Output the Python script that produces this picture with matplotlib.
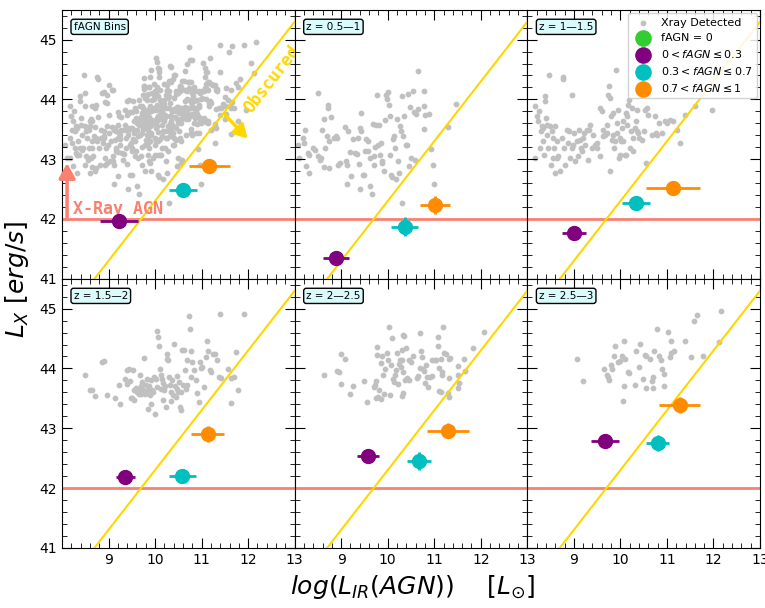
import numpy as np
import matplotlib
matplotlib.use('Agg')
import matplotlib.pyplot as plt
from matplotlib.ticker import MultipleLocator

# Gray X-ray detected sources per redshift bin (log L_IR(AGN), log L_X)
z1_x = [8.065, 8.100, 8.172, 8.208, 8.222, 8.244, 8.294, 8.315, 8.315, 8.387, 8.437, 8.495, 8.509, 8.552,
        8.566, 8.581, 8.624, 8.638, 8.652, 8.695, 8.710, 8.724, 8.738, 8.746, 8.781, 8.839, 8.896, 8.910,
        8.925, 8.968, 9.082, 9.104, 9.118, 9.125, 9.154, 9.197, 9.211, 9.254, 9.297, 9.341, 9.369, 9.391,
        9.412, 9.427, 9.427, 9.412, 9.462, 9.498, 9.513, 9.534, 9.570, 9.584, 9.613, 9.627, 9.656, 9.677,
        9.699, 9.713, 9.728, 9.749, 9.771, 9.785, 9.821, 9.842, 9.857, 9.871, 9.885, 9.914, 9.943, 9.971,
        9.986, 10.014, 10.036, 10.057, 10.057, 10.072, 10.086, 10.108, 10.143, 10.158, 10.179, 10.201,
        10.229, 10.251, 10.272, 10.287, 10.301, 10.323, 10.344, 10.394, 10.416, 10.444, 10.466, 10.487,
        10.502, 10.538, 10.559, 10.588, 10.609, 10.645, 10.659, 10.774, 10.789, 10.789, 10.803, 10.896,
        10.932, 10.968, 10.989, 11.290, 11.462, 10.301]
z1_y = [43.244, 43.022, 43.356, 43.272, 43.494, 42.883, 43.106, 42.772, 43.078, 43.189, 43.161, 44.106,
        43.050, 42.994, 43.022, 43.494, 43.678, 42.867, 43.189, 43.383, 43.856, 43.900, 42.856, 43.300,
        43.700, 43.356, 43.383, 43.356, 42.900, 42.939, 43.533, 42.967, 42.900, 42.589, 43.467, 43.122,
        42.717, 43.344, 43.106, 43.094, 43.356, 42.922, 43.522, 43.778, 43.467, 42.494, 42.744, 42.733,
        43.133, 43.344, 43.300, 43.133, 42.550, 43.022, 42.411, 43.589, 43.050, 42.900, 43.200, 43.578,
        44.078, 43.244, 43.567, 43.078, 43.272, 42.967, 42.939, 42.800, 43.661, 44.078, 44.011, 44.122,
        43.900, 43.722, 43.067, 42.744, 42.706, 43.344, 43.383, 43.189, 42.661, 43.678, 42.967, 42.761,
        43.550, 43.478, 44.050, 43.383, 43.717, 43.233, 43.233, 44.089, 42.883, 43.867, 43.022, 44.144,
        43.789, 42.994, 43.756, 44.478, 43.844, 43.500, 44.144, 43.883, 43.733, 43.756, 43.172, 42.900,
        42.578, 43.533, 43.928, 42.272]

z2_x = [8.165, 8.165, 8.201, 8.237, 8.258, 8.272, 8.287, 8.308, 8.330, 8.344, 8.358, 8.380, 8.380, 8.401,
        8.416, 8.430, 8.452, 8.473, 8.487, 8.502, 8.523, 8.545, 8.559, 8.573, 8.595, 8.595, 8.631, 8.645,
        8.667, 8.703, 8.738, 8.760, 8.774, 8.789, 8.810, 8.846, 8.882, 8.903, 8.918, 8.953, 8.968, 8.989,
        9.004, 9.025, 9.061, 9.097, 9.118, 9.133, 9.154, 9.168, 9.204, 9.219, 9.240, 9.276, 9.312, 9.333,
        9.348, 9.384, 9.419, 9.455, 9.491, 9.505, 9.563, 9.599, 9.620, 9.634, 9.670, 9.706, 9.720, 9.742,
        9.763, 9.778, 9.792, 9.814, 9.835, 9.849, 9.864, 9.885, 9.907, 9.921, 9.935, 9.957, 9.964, 9.993,
        10.014, 10.029, 10.050, 10.065, 10.100, 10.122, 10.136, 10.151, 10.172, 10.194, 10.208, 10.222,
        10.244, 10.265, 10.280, 10.315, 10.337, 10.351, 10.366, 10.387, 10.409, 10.459, 10.509, 10.530,
        10.552, 10.566, 10.602, 10.674, 10.746, 10.767, 10.796, 10.839, 10.889, 10.961, 10.996, 11.068,
        11.140, 11.211, 11.283, 11.391, 11.606, 11.964, 9.993, 10.122, 9.778, 9.563]
z2_y = [43.883, 43.022, 43.717, 43.633, 43.800, 43.189, 43.467, 43.550, 43.522, 43.300, 43.078, 44.050,
        43.967, 43.689, 43.578, 43.411, 43.189, 44.411, 43.550, 42.911, 43.467, 43.356, 43.022, 43.189,
        42.772, 43.550, 43.022, 43.300, 43.050, 42.800, 43.356, 44.383, 44.344, 43.189, 42.911, 43.494,
        43.272, 43.467, 43.022, 43.189, 44.067, 43.244, 43.439, 42.967, 43.300, 43.050, 43.494, 43.328,
        43.189, 43.133, 43.356, 43.439, 43.244, 43.494, 42.994, 43.494, 43.578, 43.189, 43.411, 43.244,
        43.272, 43.189, 43.856, 43.800, 43.494, 43.383, 43.411, 43.578, 43.439, 44.078, 44.217, 44.022,
        43.717, 43.328, 43.411, 43.772, 43.189, 43.300, 44.494, 43.439, 43.606, 43.828, 43.022, 43.356,
        43.300, 43.522, 43.633, 43.300, 43.078, 43.772, 43.717, 43.578, 43.911, 43.994, 43.189, 43.467,
        43.856, 43.356, 43.133, 43.522, 43.633, 43.467, 43.828, 43.439, 43.356, 43.328, 43.467, 43.828,
        42.939, 43.856, 43.744, 43.411, 43.717, 43.439, 43.411, 43.606, 43.439, 43.633, 43.606, 43.661,
        43.633, 43.494, 43.272, 43.744, 43.883, 43.828, 43.078, 43.078, 42.800, 43.050]

z3_x = [8.499, 8.606, 8.635, 8.707, 8.871, 8.907, 8.964, 9.143, 9.229, 9.251, 9.351, 9.394, 9.408, 9.444,
        9.465, 9.494, 9.515, 9.537, 9.551, 9.551, 9.587, 9.608, 9.637, 9.659, 9.680, 9.694, 9.709, 9.730,
        9.752, 9.766, 9.780, 9.802, 9.823, 9.838, 9.852, 9.873, 9.895, 9.909, 9.923, 9.945, 9.966, 9.981,
        9.995, 10.016, 10.038, 10.052, 10.067, 10.088, 10.110, 10.124, 10.138, 10.160, 10.167, 10.181,
        10.195, 10.210, 10.231, 10.253, 10.267, 10.281, 10.303, 10.324, 10.339, 10.353, 10.374, 10.396,
        10.410, 10.425, 10.446, 10.467, 10.482, 10.496, 10.518, 10.539, 10.553, 10.568, 10.589, 10.611,
        10.625, 10.639, 10.661, 10.682, 10.697, 10.732, 10.754, 10.768, 10.782, 10.804, 10.840, 10.875,
        10.911, 10.947, 10.969, 10.983, 11.019, 11.054, 11.090, 11.126, 11.140, 11.183, 11.212, 11.255,
        11.283, 11.341, 11.377, 11.412, 11.570, 11.627, 11.642, 11.699, 11.735, 11.785, 11.398, 11.913]
z3_y = [43.898, 43.647, 43.636, 43.536, 44.109, 44.120, 43.553, 43.514, 43.720, 43.413, 43.831, 43.747,
        43.981, 43.998, 43.792, 43.514, 43.514, 43.981, 43.480, 43.636, 43.681, 43.608, 43.636, 43.580,
        43.886, 43.703, 43.580, 43.775, 43.647, 44.176, 43.569, 43.720, 43.831, 43.330, 43.636, 43.703,
        43.553, 43.402, 43.803, 43.636, 43.608, 43.859, 43.235, 43.831, 43.692, 44.627, 44.526, 44.371,
        43.998, 43.886, 43.664, 43.831, 43.469, 43.758, 43.636, 43.703, 43.358, 44.237, 44.165, 44.148,
        43.859, 43.720, 43.608, 43.458, 43.803, 43.553, 44.415, 43.703, 43.525, 43.664, 43.870, 43.608,
        43.775, 43.358, 43.302, 43.608, 44.315, 43.720, 44.304, 43.970, 43.664, 44.137, 43.720, 44.871,
        44.666, 43.859, 44.293, 44.109, 43.970, 43.803, 43.592, 43.441, 44.109, 44.014, 44.026, 43.692,
        44.193, 44.460, 44.293, 43.970, 43.942, 44.248, 44.248, 44.148, 43.859, 43.848, 43.998, 43.848,
        43.425, 43.859, 44.276, 43.647, 44.905, 44.905]

z4_x = [8.638, 8.918, 8.961, 9.004, 9.090, 9.004, 9.262, 9.197, 9.498, 9.548, 9.699, 9.720, 9.742, 9.763,
        9.763, 9.742, 9.785, 9.806, 9.849, 9.849, 9.871, 9.892, 9.914, 9.935, 9.978, 10.000, 10.022,
        10.043, 10.065, 10.086, 10.108, 10.129, 10.151, 10.172, 10.194, 10.215, 10.237, 10.258, 10.280,
        10.301, 10.301, 10.323, 10.344, 10.323, 10.323, 10.301, 10.366, 10.387, 10.409, 10.452, 10.452,
        10.495, 10.538, 10.624, 10.645, 10.688, 10.688, 10.710, 10.731, 10.753, 10.774, 10.796, 10.817,
        10.839, 10.860, 10.903, 10.946, 10.946, 11.011, 11.047, 11.075, 11.075, 11.097, 11.140, 11.161,
        11.161, 11.183, 11.204, 11.247, 11.312, 11.333, 11.312, 11.097, 11.140, 11.290, 11.312, 11.505,
        11.505, 11.505, 11.527, 11.634, 11.656, 11.828, 12.065]
z4_y = [43.89, 43.96, 43.94, 44.24, 44.16, 43.74, 43.71, 43.58, 43.79, 43.44, 43.69, 43.73, 43.79, 44.36,
        44.23, 43.51, 43.53, 43.64, 44.09, 43.49, 44.21, 43.89, 43.58, 43.99, 44.26, 44.14, 44.69, 43.56,
        44.06, 44.51, 43.83, 43.78, 43.89, 43.98, 44.26, 43.74, 44.08, 44.14, 44.03, 44.31, 44.14, 44.56,
        44.54, 43.94, 43.59, 43.54, 43.81, 44.34, 43.84, 43.81, 44.14, 44.11, 44.21, 43.84, 43.88, 44.59,
        44.01, 44.29, 44.19, 43.99, 43.96, 43.76, 44.06, 43.86, 43.69, 43.86, 43.88, 44.14, 44.14, 44.14,
        44.53, 44.38, 44.01, 44.16, 43.94, 43.89, 44.69, 44.26, 44.24, 44.16, 44.18, 43.84, 43.63, 43.61,
        43.59, 43.53, 44.04, 43.89, 43.68, 43.76, 44.16, 43.96, 44.34, 44.61]

z5_x = [9.075, 9.204, 9.656, 9.713, 9.742, 9.763, 9.806, 9.828, 9.871, 9.892, 9.943, 10.000, 10.043,
        10.086, 10.108, 10.158, 10.194, 10.072, 10.065, 10.323, 10.344, 10.409, 10.430, 10.495, 10.538,
        10.559, 10.559, 10.645, 10.688, 10.710, 10.710, 10.731, 10.796, 10.839, 10.882, 10.903, 10.946,
        10.946, 11.032, 11.075, 11.097, 11.097, 11.161, 11.398, 11.527, 11.591, 11.656, 11.785, 12.129,
        12.172]
z5_y = [44.16, 43.79, 43.99, 43.89, 43.86, 43.80, 44.06, 43.99, 44.21, 44.38, 44.11, 44.13, 44.21, 44.46,
        44.16, 43.94, 43.93, 43.71, 43.45, 43.73, 44.29, 44.03, 44.41, 43.83, 44.23, 44.21, 43.68, 44.15,
        43.79, 43.86, 43.68, 44.29, 44.66, 44.21, 44.14, 43.99, 43.91, 43.71, 44.61, 44.19, 44.46, 44.26,
        44.29, 44.46, 44.19, 44.79, 44.89, 44.21, 44.44, 44.96]

gray_x = [z1_x, z2_x, z3_x, z4_x, z5_x]
gray_y = [z1_y, z2_y, z3_y, z4_y, z5_y]

panel_labels = ['fAGN Bins', 'z = 0.5\u20141', 'z = 1\u20141.5', 'z = 1.5\u20142', 'z = 2\u20142.5', 'z = 2.5\u20143']

# Binned means: (x, y, xerr, yerr) per panel
low_bin = [(9.23, 41.97, 0.41, 0.03), (8.88, 41.34, 0.28, 0.05), (9.00, 41.76, 0.25, 0.05),
           (9.36, 42.18, 0.20, 0.05), (9.57, 42.53, 0.24, 0.10), (9.66, 42.78, 0.30, 0.11)]
mid_bin = [(10.61, 42.48, 0.30, 0.04), (10.37, 41.87, 0.29, 0.16), (10.34, 42.27, 0.30, 0.05),
           (10.59, 42.20, 0.28, 0.05), (10.67, 42.45, 0.26, 0.15), (10.80, 42.75, 0.24, 0.13)]
high_bin = [(11.17, 42.88, 0.45, 0.05), (11.01, 42.23, 0.32, 0.15), (11.13, 42.51, 0.59, 0.10),
            (11.13, 42.90, 0.35, 0.13), (11.29, 42.96, 0.455, 0.12), (11.27, 43.39, 0.45, 0.14)]

lx_agn_cut = 42.0
obscured_offset = 32.3  # L_X = L_IR + offset

fig, axes = plt.subplots(2, 3, figsize=(7.65, 6.08), dpi=100, sharex=True, sharey=True)
fig.subplots_adjust(left=0.081, right=0.9935, top=0.984, bottom=0.099, wspace=0, hspace=0)

xline = np.array([8.0, 13.0])
for i, ax in enumerate(axes.flat):
    if i == 0:
        gx = np.concatenate(gray_x)
        gy = np.concatenate(gray_y)
    else:
        gx = gray_x[i - 1]
        gy = gray_y[i - 1]
    ax.scatter(gx, gy, s=10, color='silver', zorder=1, label='Xray Detected')
    ax.scatter([], [], s=120, color='limegreen', label='fAGN = 0')
    for b, col, lab in [(low_bin, 'purple', r'$0 < fAGN \leq 0.3$'),
                        (mid_bin, 'c', r'$0.3 < fAGN \leq 0.7$'),
                        (high_bin, 'darkorange', r'$0.7 < fAGN \leq 1$')]:
        bx, by, bxe, bye = b[i]
        ax.errorbar(bx, by, xerr=bxe, yerr=bye, fmt='o', color=col, ms=10, elinewidth=2,
                    capsize=0, zorder=4)
        ax.scatter([], [], s=120, color=col, label=lab)
    ax.axhline(lx_agn_cut, color='salmon', lw=2, zorder=2)
    ax.plot(xline, xline + obscured_offset, color='gold', lw=1.5, zorder=3)

    ax.text(0.05, 0.955, panel_labels[i], transform=ax.transAxes, fontsize=7.5, va='top', ha='left',
            bbox=dict(boxstyle='round,pad=0.25', facecolor='#d9fbfb', edgecolor='black'))

    ax.set_xlim(8, 13)
    ax.set_ylim(41, 45.5)
    ax.set_xticks([9, 10, 11, 12, 13])
    ax.set_yticks([41, 42, 43, 44, 45])
    ax.xaxis.set_minor_locator(MultipleLocator(0.2))
    ax.yaxis.set_minor_locator(MultipleLocator(0.2))
    ax.tick_params(which='both', direction='in', top=True, right=True, labelsize=10)
    ax.tick_params(which='major', length=7)
    ax.tick_params(which='minor', length=3.5)
    ax.tick_params(labelbottom=(i >= 3), labelleft=(i % 3 == 0))

    if i == 2:
        ax.legend(loc='upper right', fontsize=8, framealpha=0.85, borderaxespad=0.3,
                  handletextpad=0.6, labelspacing=0.45)

ax0 = axes[0, 0]
ax0.annotate('', xy=(8.11, 42.98), xytext=(8.11, 41.98),
             arrowprops=dict(arrowstyle='-|>,head_width=0.5,head_length=0.9', color='salmon', lw=2.5))
ax0.text(8.24, 42.08, 'X-Ray AGN', color='salmon', fontsize=12, fontweight='bold',
         family='DejaVu Sans Mono')
ax0.annotate('', xy=(12.03, 43.31), xytext=(11.47, 43.77),
             arrowprops=dict(arrowstyle='-|>,head_width=0.45,head_length=0.8', color='gold', lw=2.5))
ax0.text(12.52, 44.33, 'Obscured', color='gold', fontsize=12, fontweight='bold',
         family='DejaVu Sans Mono', rotation=52, ha='center', va='center')

fig.text(0.022, 0.54, r'$L_X\ [erg/s]$', rotation=90, fontsize=18, ha='center', va='center')
fig.text(0.54, 0.035, r'$log(L_{IR}(AGN))\quad\ [L_{\odot}]$', fontsize=18, ha='center', va='center')

plt.savefig('out.png', dpi=100)
